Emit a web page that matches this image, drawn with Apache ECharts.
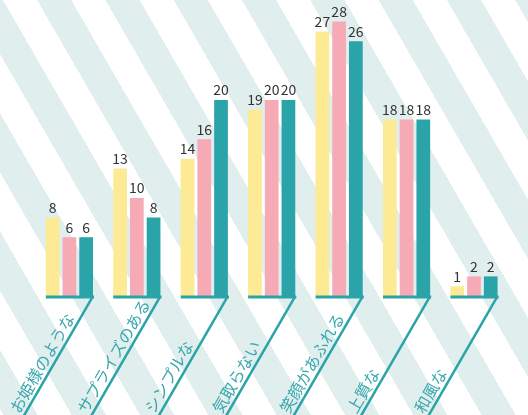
<!DOCTYPE html>
<html>
<head>
<meta charset="utf-8">
<script src="https://cdn.jsdelivr.net/npm/echarts@6/dist/echarts.min.js"></script>
<style>
  html, body { margin: 0; padding: 0; background: #ffffff; overflow: hidden; }
  #chart {
    width: 528px; height: 415px;
    background: repeating-linear-gradient(60deg,
      #ffffff 0px, #ffffff 3px,
      #e0eeee 3px, #e0eeee 32.6px,
      #ffffff 32.6px, #ffffff 59.15px);
  }
</style>
</head>
<body>
<div id="chart"></div>
<script>
const categories = ['お姫様のような', 'サプライズのある', 'シンプルな', '気取らない', '笑顔があふれる', '上質な', '和風な'];
const seriesA = [8, 13, 14, 19, 27, 18, 1];
const seriesB = [6, 10, 16, 20, 28, 18, 2];
const seriesC = [6, 8, 20, 20, 26, 18, 2];
const seriesNames = ['系列1', '系列2', '系列3'];
const colors = ['#fdea94', '#f6aab5', '#2aa4a8'];
const axisColor = '#2aa4a8';
const labelColor = '#3aa8ad';

const chart = echarts.init(document.getElementById('chart'), null, { renderer: 'canvas' });

const barLabel = {
  show: true, position: 'top', distance: 3,
  color: '#333333', fontSize: 14,
  fontFamily: 'Noto Sans CJK JP'
};

const SIN60 = Math.sin(Math.PI / 3), COS60 = 0.5;

function renderDecor(params, api) {
  const idx = api.value(0);
  const c = api.coord([idx, 0]);
  const bandW = api.size([1, 0])[0];
  const half = bandW * 0.35;
  const left = c[0] - half, right = c[0] + half;
  const y0 = c[1];
  const bottom = 415;
  const bx = right - (bottom - y0) * COS60 / SIN60;
  const nx = SIN60, ny = COS60;
  const dx = COS60, dy = -SIN60;
  const off = -10.5, along = -2;
  const tx = bx + nx * off + dx * along;
  const ty = bottom + ny * off + dy * along;
  return {
    type: 'group',
    children: [
      { type: 'line', shape: { x1: left, y1: y0 + 1, x2: right + 1, y2: y0 + 1 },
        style: { stroke: axisColor, lineWidth: 3 } },
      { type: 'line', shape: { x1: right, y1: y0, x2: bx - 4 * COS60, y2: bottom + 4 * SIN60 },
        style: { stroke: axisColor, lineWidth: 2.5 } },
      { type: 'text', x: tx, y: ty, rotation: Math.PI / 3,
        style: { text: categories[idx], fill: labelColor, fontSize: 16,
          fontFamily: 'Noto Sans CJK JP', align: 'left', verticalAlign: 'middle' } }
    ]
  };
}

chart.setOption({
  backgroundColor: 'transparent',
  animation: false,
  grid: { left: 35.7, right: 20.3, top: 2, bottom: 119 },
  xAxis: {
    type: 'category', data: categories,
    axisLine: { show: false }, axisTick: { show: false }, axisLabel: { show: false },
    splitLine: { show: false }
  },
  yAxis: {
    type: 'value', min: 0, max: 30,
    axisLine: { show: false }, axisTick: { show: false }, axisLabel: { show: false },
    splitLine: { show: false }
  },
  series: [
    { name: seriesNames[0], type: 'bar', data: seriesA, barCategoryGap: '30%', barGap: '22%',
      itemStyle: { color: colors[0] }, label: barLabel },
    { name: seriesNames[1], type: 'bar', data: seriesB, barCategoryGap: '30%', barGap: '22%',
      itemStyle: { color: colors[1] }, label: barLabel },
    { name: seriesNames[2], type: 'bar', data: seriesC, barCategoryGap: '30%', barGap: '22%',
      itemStyle: { color: colors[2] }, label: barLabel },
    { type: 'custom', renderItem: renderDecor, clip: false, z: 5, silent: true,
      data: categories.map((_, i) => [i, 0]) }
  ]
});
</script>
</body>
</html>
